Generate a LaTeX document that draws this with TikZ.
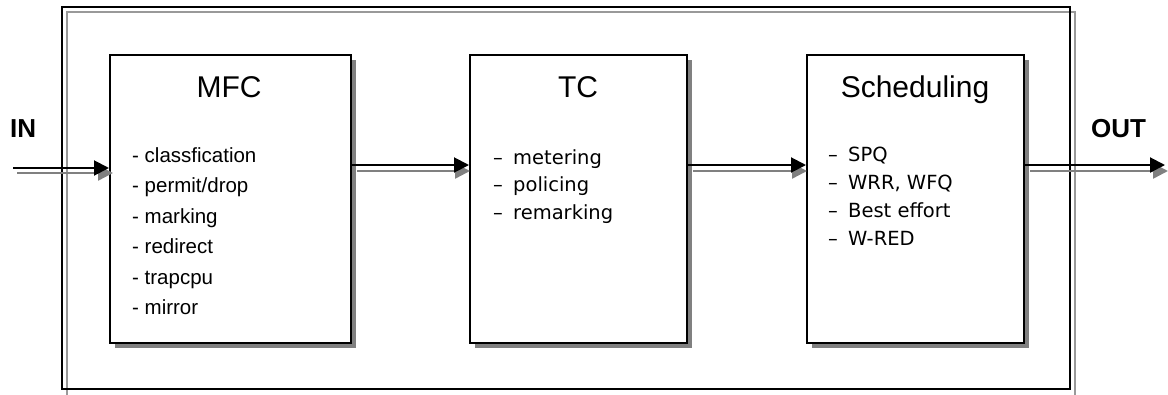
\documentclass[tikz,border=0pt]{standalone}
\usepackage{fontspec}
\setmainfont{Liberation Sans}
\newfontfamily\dvs{DejaVu Sans}
\usetikzlibrary{arrows.meta,shadows}
\definecolor{shade}{HTML}{808080}
\definecolor{frameshade}{HTML}{999999}
\begin{document}
\begin{tikzpicture}[x=1pt,y=-1pt,
  blockbox/.style={draw=black, line width=2pt, fill=white, inner sep=0pt,
    minimum height=288pt,
    general shadow={fill=shade, shadow xshift=5pt, shadow yshift=-5pt}},
  titletext/.style={anchor=base, inner sep=0pt, font=\fontsize{30}{36}\selectfont},
  itemA/.style={anchor=base west, inner sep=0pt, font=\fontsize{20.5}{24}\selectfont},
  itemB/.style={anchor=base west, inner sep=0pt, font=\dvs\fontsize{19.5}{24}\selectfont},
  portlabel/.style={anchor=base west, inner sep=0pt, font=\bfseries\fontsize{26}{30}\selectfont},
  conn/.style={draw=black, line width=2pt, -{Triangle[length=15pt,width=15pt]}},
  connshade/.style={draw=shade, line width=2.5pt, -{Triangle[length=15pt,width=15pt]}}
]
\useasboundingbox (0,0) rectangle (1168,394);
% outer frame
\draw[frameshade, line width=1.5pt] (67,12) rectangle (1075,398);
\draw[black, line width=1.5pt] (62,7) rectangle (1070,389);

% blocks
\node[blockbox, minimum width=241pt] (mfc) at (230.5,199) {};
\node[blockbox, minimum width=217pt] (tc) at (578.5,199) {};
\node[blockbox, minimum width=217pt] (sch) at (915.5,199) {};

% titles
\node[titletext] (mfct) at (229,97) {MFC};
\node[titletext] (tct) at (578,97) {TC};
\node[titletext] (scht) at (915,97) {Scheduling};

% MFC items
\node[itemA] (m1) at (132,162) {- classfication};
\node[itemA] (m2) at (132,192.5) {- permit/drop};
\node[itemA] (m3) at (132,223) {- marking};
\node[itemA] (m4) at (132,253.5) {- redirect};
\node[itemA] (m5) at (132,284) {- trapcpu};
\node[itemA] (m6) at (132,314.5) {- mirror};

% TC items
\node[itemB] (t1) at (493,164) {\makebox[20pt][l]{–}metering};
\node[itemB] (t2) at (493,191.5) {\makebox[20pt][l]{–}policing};
\node[itemB] (t3) at (493,219) {\makebox[20pt][l]{–}remarking};

% Scheduling items
\node[itemB] (s1) at (828,161) {\makebox[20pt][l]{–}SPQ};
\node[itemB] (s2) at (828,189) {\makebox[20pt][l]{–}WRR, WFQ};
\node[itemB] (s3) at (828,217) {\makebox[20pt][l]{–}Best effort};
\node[itemB] (s4) at (828,245) {\makebox[20pt][l]{–}W-RED};

% port labels
\node[portlabel] (inl) at (10,137) {IN};
\node[portlabel] (outl) at (1091,137) {OUT};

% connector levels
\coordinate (inS) at (13,168);
\coordinate (lvl) at (0,165);
\coordinate (outE) at (1165,165);

% shadows of connectors
\draw[connshade] ([xshift=4pt,yshift=-5pt]inS) -- ([xshift=4pt,yshift=-5pt]mfc.west |- inS);
\draw[connshade] ([xshift=5pt,yshift=-6pt]mfc.east |- lvl) -- ([xshift=1pt,yshift=-6pt]tc.west |- lvl);
\draw[connshade] ([xshift=5pt,yshift=-6pt]tc.east |- lvl) -- ([xshift=1pt,yshift=-6pt]sch.west |- lvl);
\draw[connshade] ([xshift=5pt,yshift=-6pt]sch.east |- lvl) -- ([xshift=3pt,yshift=-6pt]outE);

% connectors
\draw[conn] (inS) -- (mfc.west |- inS);
\draw[conn] (mfc.east |- lvl) -- (tc.west |- lvl);
\draw[conn] (tc.east |- lvl) -- (sch.west |- lvl);
\draw[conn] (sch.east |- lvl) -- (outE);
\end{tikzpicture}
\end{document}
